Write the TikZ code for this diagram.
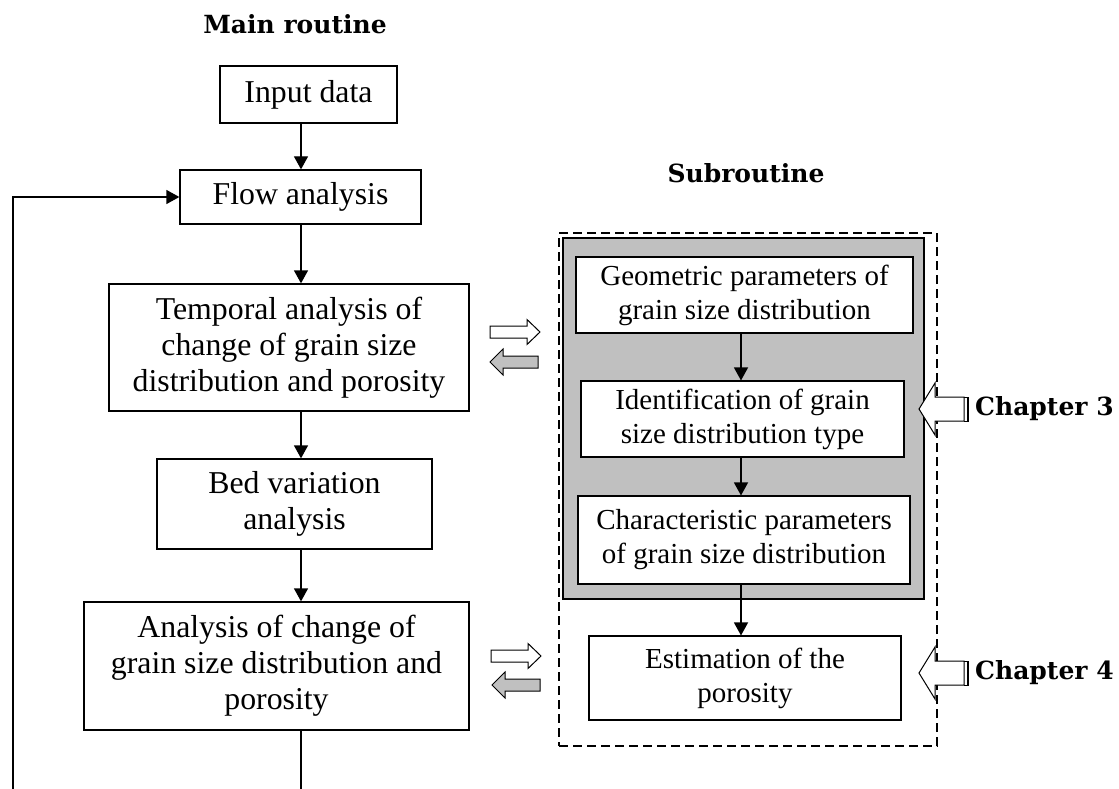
\documentclass[tikz,border=0pt]{standalone}
\usepackage{fontspec}
\setmainfont{Liberation Serif}
\newfontfamily\titlefont{DejaVu Serif}
\usetikzlibrary{arrows.meta}
\definecolor{silver}{RGB}{192,192,192}
\begin{document}
\begin{tikzpicture}[x=1pt,y=-1pt,
  box/.style={draw, line width=1.3pt, fill=white, align=center, inner sep=0pt,
    font=\fontsize{31.8}{36}\selectfont},
  sbox/.style={draw, line width=1.1pt, fill=white, align=center, inner sep=0pt,
    font=\fontsize{29}{34}\selectfont},
  conn/.style={line width=1.3pt, -{Triangle[length=13pt,width=14pt]}},
  plain/.style={line width=1.3pt},
  ttl/.style={font=\titlefont\bfseries\fontsize{25}{30}\selectfont, inner sep=0pt},
  blk/.style={draw, line width=1pt, line join=miter},
  rarrow/.pic={\draw[blk, fill=white] (0,-6) -- (37,-6) -- (37,-12.5) -- (50,0) -- (37,12.5) -- (37,6) -- (0,6) -- cycle;},
  larrow/.pic={\draw[blk, fill=silver] (0,-6) -- (-35,-6) -- (-35,-13) -- (-48,0) -- (-35,13) -- (-35,6) -- (0,6) -- cycle;},
  chaparrow/.pic={\draw[blk, fill=white] (0,0) -- (16,-26) -- (16,-12) -- (45,-12) -- (45,12) -- (16,12) -- (16,26) -- cycle;
     \draw[line width=1pt] (45,-12) -- (50,-12) (45,12) -- (50,12);
     \draw[line width=2pt] (48.5,-12) -- (48.5,12);},
]
\useasboundingbox (0,0) rectangle (1119,789);

% titles
\node[ttl] (tmain) at (295,24) {Main routine};
\node[ttl] (tsub) at (746,173) {Subroutine};

% main column
\node[box, line width=2pt, minimum width=177pt, minimum height=57pt] (input) at (308.5,94.5) {Input data};
\node[box, minimum width=241pt, minimum height=54pt] (flow) at (300.5,197) {Flow analysis};
\node[box, minimum width=360pt, minimum height=127pt] (temp) at (289,347.5)
  {Temporal analysis of\\change of grain size\\distribution and porosity};
\node[box, minimum width=275pt, minimum height=90pt] (bed) at (294.5,504)
  {Bed variation\\analysis};
\node[box, minimum width=385pt, minimum height=128pt] (ana) at (276.5,666)
  {Analysis of change of\\grain size distribution and\\porosity};

\coordinate (colx) at (301,0);
\coordinate (anbot) at (301,789);
\coordinate (loopbot) at (13,789);

\draw[conn] (input.south -| colx) -- (flow.north -| colx);
\draw[conn] (flow.south -| colx) -- (temp.north -| colx);
\draw[conn] (temp.south -| colx) -- (bed.north -| colx);
\draw[conn] (bed.south -| colx) -- (ana.north -| colx);
\draw[plain] (ana.south -| colx) -- (anbot);
\draw[conn] (loopbot) |- (flow.west);

% subroutine
\node[draw, dash pattern=on 9pt off 5pt, line width=1.3pt, minimum width=378pt, minimum height=513pt, inner sep=0pt] (sub) at (748,489.5) {};
\node[draw, line width=1.8pt, fill=silver, minimum width=361pt, minimum height=361pt, inner sep=0pt] (gray) at (743.5,418.5) {};

\node[sbox, minimum width=337pt, minimum height=76pt] (geo) at (744.5,295)
  {Geometric parameters of\\grain size distribution};
\node[sbox, minimum width=323pt, minimum height=76pt] (ident) at (742.5,419)
  {Identification of grain\\size distribution type};
\node[sbox, minimum width=332pt, minimum height=88pt] (char) at (744,540)
  {Characteristic parameters\\of grain size distribution};
\node[sbox, minimum width=312pt, minimum height=84pt] (est) at (745,678)
  {Estimation of the\\porosity};

\coordinate (subx) at (741,0);
\draw[conn] (geo.south -| subx) -- (ident.north -| subx);
\draw[conn] (ident.south -| subx) -- (char.north -| subx);
\draw[conn] (char.south -| subx) -- (est.north -| subx);

% exchange arrows
\pic at (490,332) {rarrow};
\pic at (538,362) {larrow};
\pic at (491,656) {rarrow};
\pic at (540,685) {larrow};

% chapter arrows
\pic at (919,409) {chaparrow};
\node[ttl, anchor=west] (ch3) at (975,409) {Chapter 3};
\pic at (919,673) {chaparrow};
\node[ttl, anchor=west] (ch4) at (975,673) {Chapter 4};
\end{tikzpicture}
\end{document}
